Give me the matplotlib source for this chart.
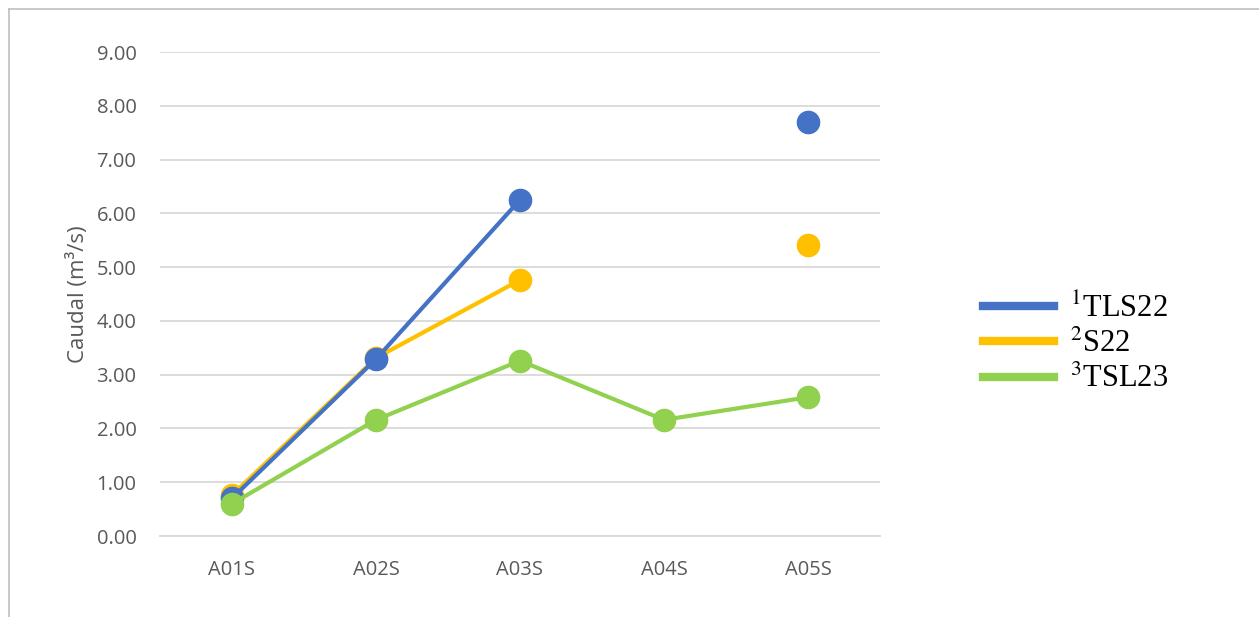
import numpy as np
import matplotlib.pyplot as plt
from matplotlib.lines import Line2D

# categories and series (nan = no data)
sites = ['A01S', 'A02S', 'A03S', 'A04S', 'A05S']
tls22 = [0.70, 3.29, 6.25, np.nan, 7.69]
s22 = [0.76, 3.31, 4.76, np.nan, 5.41]
tsl23 = [0.60, 2.16, 3.26, 2.16, 2.58]

labels = ['$^{1}$TLS22', '$^{2}$S22', '$^{3}$TSL23']
colors = ['#4472C4', '#FFC000', '#92D050']

plt.rcParams['font.family'] = ['Open Sans', 'DejaVu Sans']
plt.rcParams['mathtext.fontset'] = 'stix'

fig = plt.figure(figsize=(12.59, 6.17), dpi=100)
ax = fig.add_axes([160 / 1259, 1 - 536 / 617, 720 / 1259, 484 / 617])

x = np.arange(len(sites))
# draw order: yellow, blue, green
for vals, col, z in [(s22, colors[1], 3), (tls22, colors[0], 4), (tsl23, colors[2], 5)]:
    ax.plot(x, vals, color=col, linewidth=3, marker='o', markersize=16,
            solid_capstyle='round', zorder=z)

ax.set_xlim(-0.5, len(sites) - 0.5)
ax.set_ylim(0, 9)
ax.set_yticks(np.arange(0, 9.01, 1.0))
ax.set_yticklabels([f'{v:.2f}' for v in np.arange(0, 9.01, 1.0)])
ax.set_xticks(x)
ax.set_xticklabels(sites)
ax.grid(axis='y', color='#d9d9d9', linewidth=1.3, zorder=0)
ax.set_axisbelow(True)
for s in ['top', 'right', 'left']:
    ax.spines[s].set_visible(False)
ax.spines['bottom'].set_color('#d9d9d9')
ax.spines['bottom'].set_linewidth(1.3)
ax.tick_params(axis='both', length=0, labelsize=14.5, colors='#595959')
ax.tick_params(axis='y', pad=17)
ax.tick_params(axis='x', pad=17)
ax.set_ylabel('Caudal (m³/s)', fontsize=16, color='#595959', labelpad=5)

handles = [Line2D([], [], color=c, linewidth=6) for c in colors]
fig.legend(handles, labels, loc='center left', bbox_to_anchor=(962 / 1259, 1 - 344 / 617),
           frameon=False, prop={'family': 'Liberation Serif', 'size': 22},
           handlelength=2.3, handletextpad=0.55, labelspacing=0.2, borderpad=0.2)

# outer chart border (left and top edges visible)
fig.add_artist(Line2D([9 / 1259, 9 / 1259], [0, 1 - 9 / 617], transform=fig.transFigure,
                      color='#bfbfbf', linewidth=1.2))
fig.add_artist(Line2D([9 / 1259, 1], [1 - 9 / 617, 1 - 9 / 617], transform=fig.transFigure,
                      color='#bfbfbf', linewidth=1.2))

fig.savefig('out.png', dpi=100)
